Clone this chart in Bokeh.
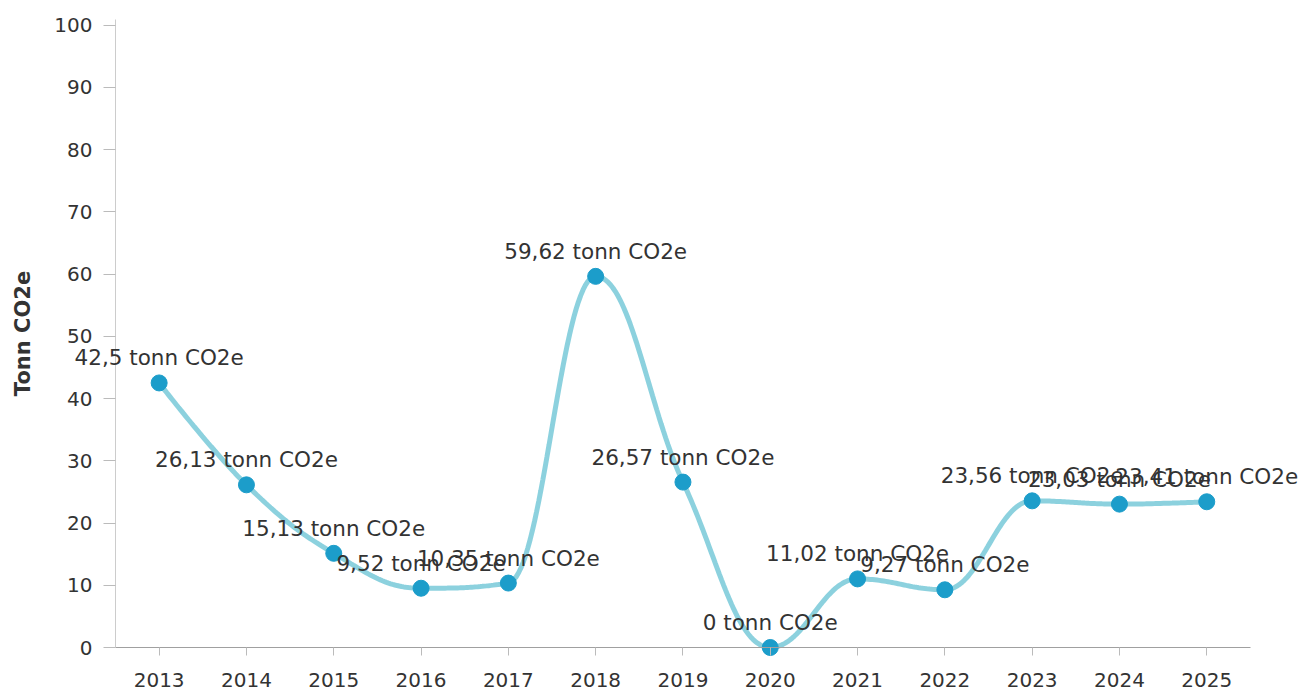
import numpy as np
from bokeh.plotting import figure
from bokeh.models import ColumnDataSource, Label, Range1d, FixedTicker
from bokeh.embed import file_html
from bokeh.resources import INLINE

years = ["2013", "2014", "2015", "2016", "2017", "2018", "2019",
         "2020", "2021", "2022", "2023", "2024", "2025"]
values = [42.5, 26.13, 15.13, 9.52, 10.35, 59.62, 26.57,
          0, 11.02, 9.27, 23.56, 23.03, 23.41]
y_ticks = [0, 10, 20, 30, 40, 50, 60, 70, 80, 90, 100]
unit = "tonn CO2e"

xs = np.arange(1, len(years) + 1, dtype=float)
ys = np.array(values, dtype=float)


def spline_path(px, py, smoothing=1.5, n=40):
    denom = smoothing + 1
    N = len(px)
    lc = [(px[i], py[i]) for i in range(N)]
    rc = [(px[i], py[i]) for i in range(N)]
    for i in range(1, N - 1):
        lx, ly = px[i - 1], py[i - 1]
        nx, ny = px[i + 1], py[i + 1]
        x, y = px[i], py[i]
        lcx = (smoothing * x + lx) / denom
        lcy = (smoothing * y + ly) / denom
        rcx = (smoothing * x + nx) / denom
        rcy = (smoothing * y + ny) / denom
        if rcx != lcx:
            corr = ((rcy - lcy) * (rcx - x)) / (rcx - lcx) + y - rcy
            lcy += corr
            rcy += corr
        if lcy > ly and lcy > y:
            lcy = max(ly, y)
            rcy = 2 * y - lcy
        elif lcy < ly and lcy < y:
            lcy = min(ly, y)
            rcy = 2 * y - lcy
        if rcy > ny and rcy > y:
            rcy = max(ny, y)
            lcy = 2 * y - rcy
        elif rcy < ny and rcy < y:
            rcy = min(ny, y)
            lcy = 2 * y - rcy
        lc[i] = (lcx, lcy)
        rc[i] = (rcx, rcy)
    outx, outy = [px[0]], [py[0]]
    t = np.linspace(0, 1, n)[1:]
    for i in range(1, N):
        p0 = (px[i - 1], py[i - 1])
        p1 = rc[i - 1]
        p2 = lc[i]
        p3 = (px[i], py[i])
        bx = (1 - t) ** 3 * p0[0] + 3 * (1 - t) ** 2 * t * p1[0] + 3 * (1 - t) * t ** 2 * p2[0] + t ** 3 * p3[0]
        by = (1 - t) ** 3 * p0[1] + 3 * (1 - t) ** 2 * t * p1[1] + 3 * (1 - t) * t ** 2 * p2[1] + t ** 3 * p3[1]
        outx.extend(bx.tolist())
        outy.extend(by.tolist())
    return outx, outy


cx, cy = spline_path(xs, ys)

labels = [("%g" % v).replace(".", ",") + " " + unit for v in values]
src = ColumnDataSource(dict(x=xs, y=ys, label=labels))

# layout geometry (pixels)
W, H = 1304, 693
axis_px = 115.0      # where category edge 0.5 sits
step_px = 87.3       # px per category
zero_px = 647.0      # where y=0 sits
unit_px = 6.225      # px per y unit

x_lo = 0.5 - axis_px / step_px
x_hi = 0.5 + (W - axis_px) / step_px
y_hi = zero_px / unit_px
y_lo = -(H - zero_px) / unit_px
n = len(years)

p = figure(width=W, height=H, output_backend="svg", toolbar_location=None,
           x_range=Range1d(x_lo, x_hi), y_range=Range1d(y_lo, y_hi),
           min_border_left=0, min_border_right=0, min_border_top=0,
           min_border_bottom=0)
p.outline_line_color = None
p.xgrid.grid_line_color = None
p.ygrid.grid_line_color = None
p.background_fill_color = "white"
p.border_fill_color = "white"

p.line(cx, cy, line_color="#86cfdc", line_width=5, line_alpha=0.95)
p.scatter("x", "y", source=src, size=16, fill_color="#1c9dca", line_color="#1c9dca")

for xv, yv, txt in zip(xs, ys, labels):
    p.add_layout(Label(x=float(xv), y=float(yv), text=txt, text_align="center",
                       text_baseline="middle", y_offset=25,
                       text_font="DejaVu Sans", text_font_size="21.5px",
                       text_color="#333333"))

p.xaxis.fixed_location = 0
p.xaxis.ticker = FixedTicker(ticks=xs.tolist())
p.xaxis.bounds = (0.5, n + 0.5)
p.xaxis.major_label_overrides = {float(i + 1): yr for i, yr in enumerate(years)}
p.xaxis.major_label_overrides.update({int(i + 1): yr for i, yr in enumerate(years)})
p.xaxis.axis_line_color = "#a0a0a0"
p.xaxis.major_tick_line_color = "#bbbbbb"
p.xaxis.major_tick_out = 8
p.xaxis.major_tick_in = 0
p.xaxis.minor_tick_line_color = None
p.xaxis.major_label_standoff = 17
p.xaxis.major_label_text_font = "DejaVu Sans"
p.xaxis.major_label_text_font_size = "20px"
p.xaxis.major_label_text_color = "#333333"

p.yaxis.fixed_location = 0.5
p.yaxis.bounds = (0, 100.9)
p.yaxis.ticker = FixedTicker(ticks=y_ticks)
p.yaxis.axis_line_color = "#cccccc"
p.yaxis.major_tick_line_color = "#bbbbbb"
p.yaxis.major_tick_out = 12
p.yaxis.major_tick_in = 0
p.yaxis.minor_tick_line_color = None
p.yaxis.major_label_standoff = 11
p.yaxis.major_label_text_font = "DejaVu Sans"
p.yaxis.major_label_text_font_size = "20px"
p.yaxis.major_label_text_color = "#333333"
p.yaxis.axis_label = "Tonn CO2e"
p.yaxis.axis_label_text_font = "DejaVu Sans"
p.yaxis.axis_label_text_font_style = "bold"
p.yaxis.axis_label_text_font_size = "21px"
p.yaxis.axis_label_text_color = "#333333"
p.yaxis.axis_label_standoff = 16

open("out.html", "w").write(file_html(p, INLINE))
